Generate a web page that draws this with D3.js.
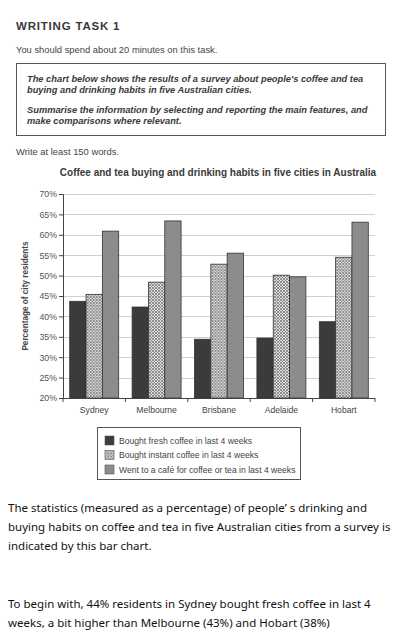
<!DOCTYPE html>
<html>
<head>
<meta charset="utf-8">
<script src="https://cdn.jsdelivr.net/npm/d3@7"></script>
<style>
  body { margin: 0; background: #fff; }
  svg { display: block; }
</style>
</head>
<body>
<svg id="page"></svg>
<script>
const cities = ["Sydney", "Melbourne", "Brisbane", "Adelaide", "Hobart"];
const freshCoffee = [43.7, 42.3, 34.4, 34.7, 38.7];
const instantCoffee = [45.4, 48.4, 52.8, 50.1, 54.5];
const cafeVisits = [60.9, 63.4, 55.5, 49.7, 63.1];
const seriesNames = [
    "Bought fresh coffee in last 4 weeks",
    "Bought instant coffee in last 4 weeks",
    "Went to a café for coffee or tea in last 4 weeks"
];
const yTickValues = [20, 25, 30, 35, 40, 45, 50, 55, 60, 65, 70];

const width = 396;
const height = 639;

const svg = d3.select("#page").attr("width", width).attr("height", height);

// crosshatch fill for the instant coffee bars
const defs = svg.append("defs");
const pat = defs.append("pattern")
    .attr("id", "hatch")
    .attr("patternUnits", "userSpaceOnUse")
    .attr("width", 3).attr("height", 3);
pat.append("rect").attr("width", 3).attr("height", 3).attr("fill", "#e2e2e2");
pat.append("path").attr("d", "M0,0L3,3M3,0L0,3").attr("stroke", "#6a6a6a").attr("stroke-width", 0.7);

// ---- task header ----
svg.append("text")
    .attr("x", 16).attr("y", 30)
    .style("font", "bold 11.5px 'Liberation Sans', Arial, sans-serif")
    .style("letter-spacing", "0.8px")
    .attr("fill", "#3a3a3a")
    .text("WRITING TASK 1");

svg.append("text")
    .attr("x", 16).attr("y", 53)
    .style("font", "9.4px 'Liberation Sans', Arial, sans-serif")
    .attr("fill", "#444")
    .text("You should spend about 20 minutes on this task.");

svg.append("rect")
    .attr("x", 16.5).attr("y", 63.5).attr("width", 369).attr("height", 72)
    .attr("fill", "none").attr("stroke", "#555").attr("stroke-width", 1);

const promptLines = [
    ["The chart below shows the results of a survey about people's coffee and tea", 82],
    ["buying and drinking habits in five Australian cities.", 92.5],
    ["Summarise the information by selecting and reporting the main features, and", 113],
    ["make comparisons where relevant.", 123.5]
];
svg.selectAll(".prompt")
    .data(promptLines)
    .enter()
    .append("text")
    .attr("class", "prompt")
    .attr("x", 27).attr("y", d => d[1])
    .style("font", "italic bold 9.3px 'Liberation Sans', Arial, sans-serif")
    .attr("fill", "#3a3a3a")
    .text(d => d[0]);

svg.append("text")
    .attr("x", 16).attr("y", 155)
    .style("font", "9.4px 'Liberation Sans', Arial, sans-serif")
    .attr("fill", "#444")
    .text("Write at least 150 words.");

// ---- chart ----
const plotLeft = 63, plotRight = 375, plotTop = 194, plotBottom = 398;

const y = d3.scaleLinear().domain([20, 70]).range([plotBottom, plotTop]);
const x0 = d3.scaleBand().domain(cities).range([plotLeft, plotRight])
    .paddingInner(0.215).paddingOuter(0.1075);
const seriesKeys = [0, 1, 2];
const x1 = d3.scaleBand().domain(seriesKeys).range([0, x0.bandwidth()]);

const fills = ["#3b3b3b", "url(#hatch)", "#8c8c8c"];
const seriesValues = [freshCoffee, instantCoffee, cafeVisits];

svg.append("text")
    .attr("x", 218).attr("y", 176)
    .attr("text-anchor", "middle")
    .style("font", "bold 10px 'Liberation Sans', Arial, sans-serif")
    .attr("fill", "#3a3a3a")
    .text("Coffee and tea buying and drinking habits in five cities in Australia");

// gridlines
svg.selectAll(".grid")
    .data(yTickValues.slice(1))
    .enter()
    .append("line")
    .attr("class", "grid")
    .attr("x1", plotLeft).attr("x2", plotRight)
    .attr("y1", d => Math.round(y(d)) + 0.5).attr("y2", d => Math.round(y(d)) + 0.5)
    .attr("stroke", "#cfcfcf").attr("stroke-width", 1);

// y axis
const yAxis = svg.append("g")
    .attr("transform", `translate(${plotLeft},0)`)
    .call(d3.axisLeft(y).tickValues(yTickValues).tickFormat(d => d + "%").tickSize(4).tickPadding(2));
yAxis.selectAll("text")
    .style("font", "8.8px 'Liberation Sans', Arial, sans-serif")
    .attr("fill", "#555");
yAxis.selectAll("line,path").attr("stroke", "#444");

svg.append("text")
    .attr("transform", `translate(28,${(plotTop + plotBottom) / 2}) rotate(-90)`)
    .attr("text-anchor", "middle")
    .style("font", "bold 8.2px 'Liberation Sans', Arial, sans-serif")
    .attr("fill", "#444")
    .text("Percentage of city residents");

// bars
const groups = svg.selectAll(".city")
    .data(cities)
    .enter()
    .append("g")
    .attr("class", "city")
    .attr("transform", d => `translate(${x0(d)},0)`);

groups.selectAll("rect")
    .data((d, i) => seriesKeys.map(k => ({ k: k, v: seriesValues[k][i] })))
    .enter()
    .append("rect")
    .attr("x", d => x1(d.k))
    .attr("y", d => y(d.v))
    .attr("width", x1.bandwidth())
    .attr("height", d => plotBottom - y(d.v))
    .attr("fill", d => fills[d.k])
    .attr("stroke", "#333")
    .attr("stroke-width", 0.8);

// x axis
svg.append("line")
    .attr("x1", plotLeft).attr("x2", plotRight)
    .attr("y1", plotBottom + 0.5).attr("y2", plotBottom + 0.5)
    .attr("stroke", "#444");
const step = x0.step();
svg.selectAll(".xtick")
    .data(d3.range(cities.length + 1))
    .enter()
    .append("line")
    .attr("class", "xtick")
    .attr("x1", i => plotLeft + i * step).attr("x2", i => plotLeft + i * step)
    .attr("y1", plotBottom).attr("y2", plotBottom + 4)
    .attr("stroke", "#444");
svg.selectAll(".xlabel")
    .data(cities)
    .enter()
    .append("text")
    .attr("class", "xlabel")
    .attr("x", d => x0(d) + x0.bandwidth() / 2)
    .attr("y", 413)
    .attr("text-anchor", "middle")
    .style("font", "8.6px 'Liberation Sans', Arial, sans-serif")
    .attr("fill", "#444")
    .text(d => d);

// legend
svg.append("rect")
    .attr("x", 97.5).attr("y", 427.5).attr("width", 203).attr("height", 52)
    .attr("fill", "#fff").attr("stroke", "#555").attr("stroke-width", 1);
const legend = svg.selectAll(".leg")
    .data(seriesNames)
    .enter()
    .append("g")
    .attr("class", "leg")
    .attr("transform", (d, i) => `translate(105,${436 + i * 14.5})`);
legend.append("rect")
    .attr("width", 9).attr("height", 9)
    .attr("fill", (d, i) => fills[i])
    .attr("stroke", "#555").attr("stroke-width", 0.6);
legend.append("text")
    .attr("x", 14).attr("y", 7.8)
    .style("font", "8.6px 'Liberation Sans', Arial, sans-serif")
    .attr("fill", "#444")
    .text(d => d);

// ---- essay text ----
const essayLines = [
    ["The statistics (measured as a percentage) of people\u2019 s drinking and", 512],
    ["buying habits on coffee and tea in five Australian cities from a survey is", 531],
    ["indicated by this bar chart.", 550],
    ["To begin with, 44% residents in Sydney bought fresh coffee in last 4", 608],
    ["weeks, a bit higher than Melbourne (43%) and Hobart (38%)", 627]
];
svg.selectAll(".essay")
    .data(essayLines)
    .enter()
    .append("text")
    .attr("class", "essay")
    .attr("x", 8).attr("y", d => d[1])
    .style("font", "11.5px 'Noto Sans', 'Open Sans', sans-serif")
    .attr("fill", "#111")
    .text(d => d[0]);
</script>
</body>
</html>
